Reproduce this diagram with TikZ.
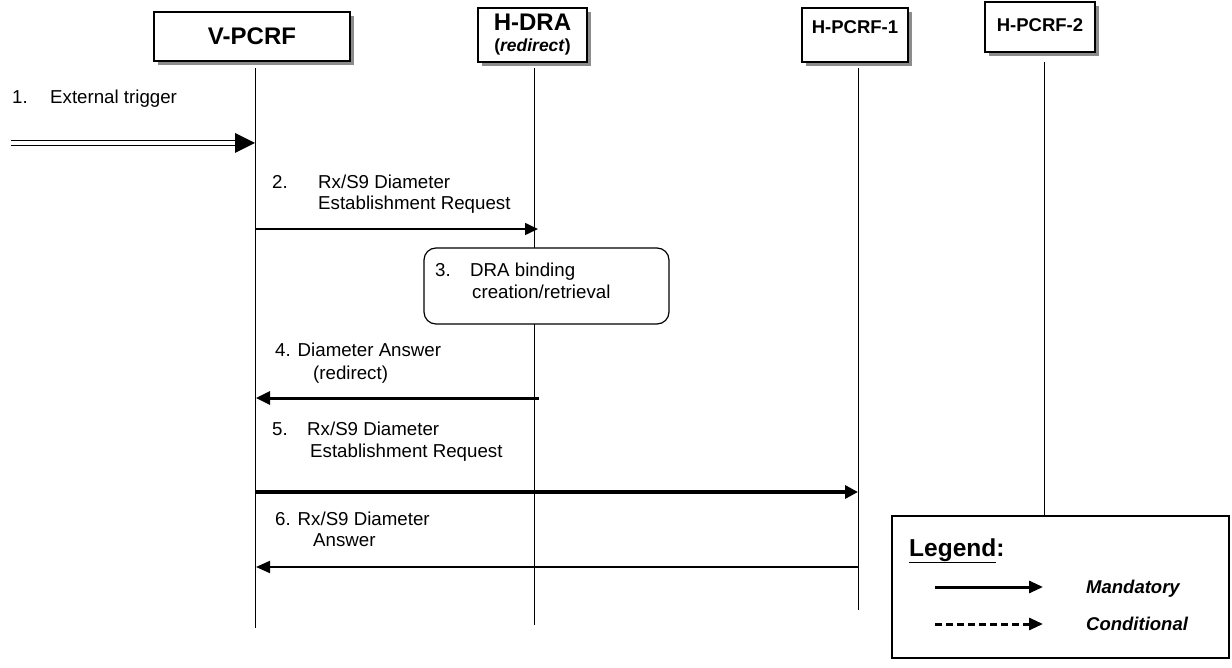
\documentclass[tikz,border=0pt]{standalone}
\usepackage{fontspec}
\setmainfont{Liberation Sans}
\usetikzlibrary{arrows.meta,shadows}
\tikzset{
  actor/.style={draw=black, line width=1.3pt, fill=white, inner sep=0pt,
    drop shadow={shadow xshift=4pt, shadow yshift=-4pt, fill=black!45, opacity=1}},
  life/.style={line width=1pt},
  txt/.style={anchor=base west, inner sep=0pt, font=\fontsize{18.7}{21}\selectfont},
  msg/.style={line width=1.6pt, -{Triangle[length=13pt,width=12pt]}},
  legtxt/.style={anchor=base west, inner sep=0pt, font=\fontsize{18.5}{22}\selectfont\bfseries\itshape}
}
\begin{document}
\begin{tikzpicture}[x=1pt,y=-1pt]
\useasboundingbox (0,0) rectangle (1232,668);

% participants
\node[actor, minimum width=196pt, minimum height=49pt, font=\fontsize{24}{28}\selectfont\bfseries] (vp) at (252,36.5) {V-PCRF};
\node[actor, minimum width=109pt, minimum height=54pt, align=center, font=\fontsize{17.5}{21}\selectfont\bfseries] (dra) at (532.5,35)
  {{\fontsize{24}{24}\selectfont H-DRA}\\(\textit{redirect})};
\node[actor, minimum width=106pt, minimum height=54pt] (hp1) at (855,35) {};
\node[anchor=north, inner sep=0pt, font=\fontsize{18.5}{20}\selectfont\bfseries] (hp1t) at (855,20) {H-PCRF-1};
\node[actor, minimum width=110pt, minimum height=50pt] (hp2) at (1040,27) {};
\node[anchor=north, inner sep=0pt, font=\fontsize{18.5}{20}\selectfont\bfseries] (hp2t) at (1040,18) {H-PCRF-2};

% lifelines
\coordinate (vpT) at (255,68);  \coordinate (vpB) at (255,628);
\coordinate (draT) at (534,68); \coordinate (draB) at (534,625);
\coordinate (hp1T) at (858,68); \coordinate (hp1B) at (858,610);
\coordinate (hp2T) at (1044,62); \coordinate (hp2B) at (1044,516);
\draw[life] (vpT) -- (vpB);
\draw[life] (draT) -- (draB);
\draw[life] (hp1T) -- (hp1B);
\draw[life] (hp2T) -- (hp2B);

% 1. external trigger
\node[txt] (t1n) at (12,104) {1.};
\node[txt] (t1) at (50,104) {External trigger};
\coordinate (trS) at (11,143);
\coordinate (trE) at (237,143);
\coordinate (trTip) at (255,143);
\draw[line width=1.7pt, double=white, double distance=3.3pt] (trS) -- (trE);
\fill (trTip) -- ++(-20,-10) -- ++(0,20) -- cycle;

% 2. request
\node[txt] (t2n) at (272,189) {2.};
\node[txt] (t2a) at (318,189) {Rx/S9 Diameter};
\node[txt] (t2b) at (318,210) {Establishment Request};
\coordinate (m2s) at (255,229); \coordinate (m2e) at (538,229);
\draw[msg] (m2s) -- (m2e);

% 3. DRA binding
\node[draw, line width=1.2pt, rounded corners=12pt, minimum width=245pt, minimum height=76pt, inner sep=0pt, fill=white] (b3) at (546.5,286) {};
\node[txt] (t3n) at (435,277) {3.};
\node[txt] (t3a) at (470,277) {DRA binding};
\node[txt] (t3b) at (472,299) {creation/retrieval};

% 4. answer (redirect)
\node[txt] (t4a) at (275,356) {4. Diameter Answer};
\node[txt] (t4b) at (313,379) {(redirect)};
\coordinate (m4s) at (539,398); \coordinate (m4e) at (256,398);
\draw[line width=3pt, -{Triangle[length=14pt,width=13pt]}] (m4s) -- (m4e);

% 5. request to H-PCRF-1
\node[txt] (t5n) at (272,435) {5.};
\node[txt] (t5a) at (307,435) {Rx/S9 Diameter};
\node[txt] (t5b) at (310,457) {Establishment Request};
\coordinate (m5s) at (255,492); \coordinate (m5e) at (858,492);
\draw[line width=4pt, -{Triangle[length=13pt,width=13pt]}] (m5s) -- (m5e);

% 6. answer
\node[txt] (t6a) at (275,525) {6. Rx/S9 Diameter};
\node[txt] (t6b) at (313,546) {Answer};
\coordinate (m6s) at (859,567); \coordinate (m6e) at (256,567);
\draw[line width=2pt, -{Triangle[length=14pt,width=12pt]}] (m6s) -- (m6e);

% legend
\node[draw, line width=2pt, fill=white, minimum width=337pt, minimum height=142pt, inner sep=0pt] (leg) at (1060.5,587) {};
\node[anchor=base west, inner sep=0pt, font=\fontsize{24.5}{28}\selectfont\bfseries] (legt) at (909,556) {\underline{Legend}:};
\coordinate (l1s) at (935,587); \coordinate (l1e) at (1043,587);
\draw[line width=3pt, -{Triangle[length=14pt,width=12pt]}] (l1s) -- (l1e);
\node[legtxt] (l1t) at (1086,593) {Mandatory};
\coordinate (l2s) at (935,624); \coordinate (l2e) at (1043,624);
\draw[line width=3pt, dash pattern=on 7pt off 4pt, -{Triangle[length=14pt,width=12pt]}] (l2s) -- (l2e);
\node[legtxt] (l2t) at (1086,630) {Conditional};
\end{tikzpicture}
\end{document}
